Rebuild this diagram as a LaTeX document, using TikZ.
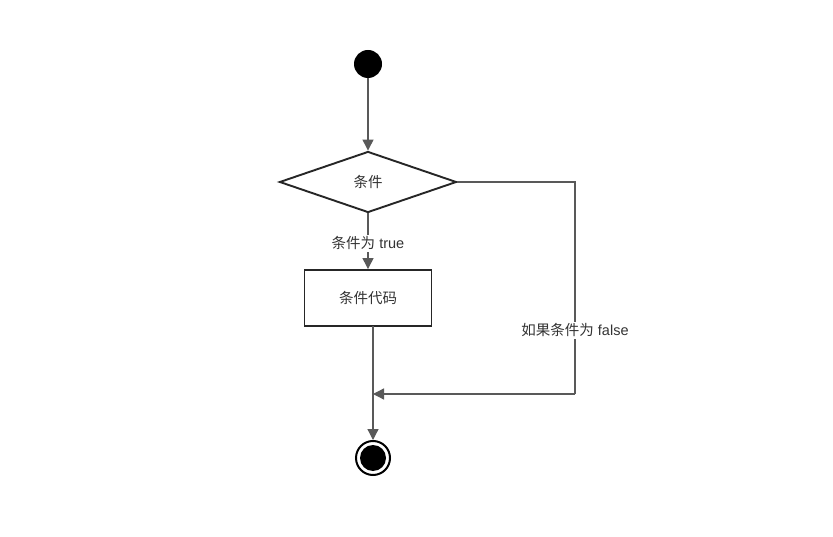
\documentclass[tikz,border=0pt]{standalone}
\usepackage{fontspec}
\setmainfont{Liberation Sans}
\newfontfamily\cjk{Noto Sans CJK SC}
\usetikzlibrary{shapes.geometric,arrows.meta}
\begin{document}
\begin{tikzpicture}[x=1pt,y=-1pt,
  lbl/.style={font=\fontsize{14.5}{16}\selectfont, text=black!80},
  shapebox/.style={draw=black!85, line width=1.9pt, fill=white, lbl},
  flow/.style={draw=black!65, line width=1.3pt, -{Triangle[length=11pt,width=11pt]}},
  plain/.style={draw=black!65, line width=1.3pt},
  edgelbl/.style={lbl, fill=white, inner sep=2pt, yshift=-2pt}]
\useasboundingbox (0,0) rectangle (833,537);
\fill[white] (0,0) rectangle (833,537);
\node[circle, fill=black, minimum size=28pt, inner sep=0] (start) at (368,64) {};
\node[shapebox, diamond, inner sep=0, minimum width=177pt, minimum height=61pt] (cond) at (368,182) {\raisebox{-1.5pt}{\cjk 条件}};
\node[shapebox, rectangle, minimum width=127pt, minimum height=56pt, inner sep=0] (code) at (368,298) {\raisebox{-1.5pt}{\cjk 条件代码}};
\node[circle, fill=black, minimum size=26pt, inner sep=0] (endin) at (373,458) {};
\node[circle, draw=black, line width=2pt, minimum size=34pt, inner sep=0] (end) at (373,458) {};
\coordinate (r1) at (575,182);
\coordinate (r2) at (575,394);
\coordinate (m) at (373,394);
\coordinate (codeb) at (373,326);
\draw[flow] (start) -- (cond.north);
\draw[flow] (cond.south) -- node[edgelbl, pos=0.5] {{\cjk 条件为} true} (code.north);
\draw[plain] (codeb) -- (m);
\draw[flow] (m) -- (end.north);
\draw[plain] (cond.east) -- (r1) -- node[edgelbl, pos=0.69] {{\cjk 如果条件为} false} (r2);
\draw[flow] (r2) -- (m);
\end{tikzpicture}
\end{document}
